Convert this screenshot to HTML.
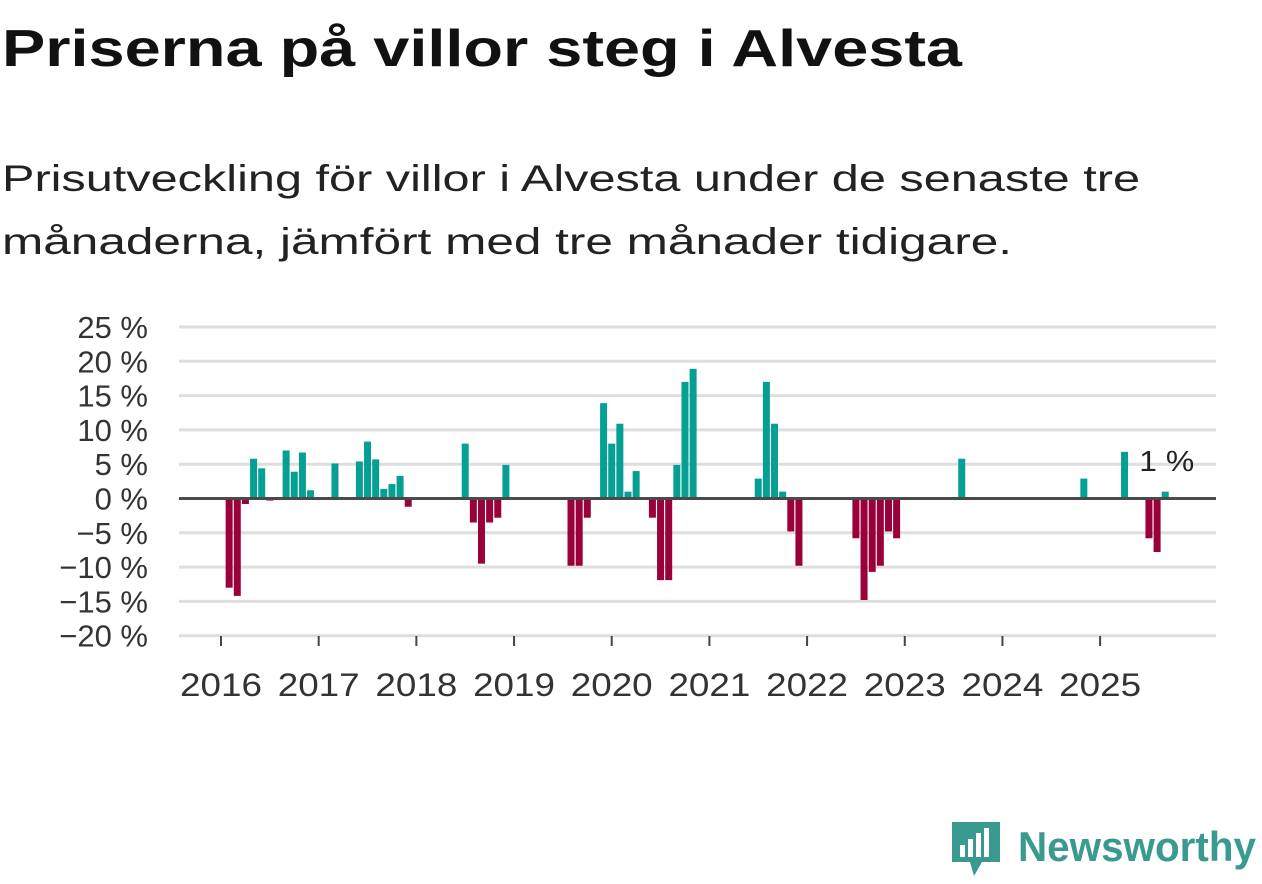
<!DOCTYPE html>
<html><head><meta charset="utf-8"><style>
body{margin:0;background:#fff;width:1262px;height:879px;overflow:hidden;font-family:"Liberation Sans",sans-serif}
</style></head><body>
<svg id="chart" width="1262" height="879" xmlns="http://www.w3.org/2000/svg">
<text x="2" y="66" font-size="52" font-weight="bold" fill="#111" textLength="960" lengthAdjust="spacingAndGlyphs">Priserna på villor steg i Alvesta</text>
<text x="2" y="191" font-size="37" fill="#222" textLength="1138" lengthAdjust="spacingAndGlyphs">Prisutveckling för villor i Alvesta under de senaste tre</text>
<text x="2" y="254" font-size="37" fill="#222" textLength="1010" lengthAdjust="spacingAndGlyphs">månaderna, jämfört med tre månader tidigare.</text>
<g id="grid"></g><g id="bars"></g><g id="axes"></g>
<g>
<path d="M952 822 h48 v40 h-18 l-8 14 l-4 -14 h-18 z" fill="#3a9a8f"/>
<rect x="960" y="845" width="5" height="12" fill="#fff"/><rect x="968" y="839" width="5" height="18" fill="#fff"/><rect x="976" y="833" width="5" height="24" fill="#fff"/><rect x="984" y="828" width="5" height="29" fill="#fff"/>
<text x="1018" y="861" font-size="42" font-weight="bold" fill="#3a9a8f" textLength="238" lengthAdjust="spacingAndGlyphs">Newsworthy</text>
</g>
</svg>
<script>
// monthly values Jan 2016 .. Sep 2025 (0 = no bar)
const years = [2016,2017,2018,2019,2020,2021,2022,2023,2024,2025];
const yTicks = [25,20,15,10,5,0,-5,-10,-15,-20];
const values = [
 0,-13,-14.2,-0.8,5.8,4.4,-0.3,0,7,3.9,6.7,1.2,
 0,0,5.1,0,0,5.4,8.3,5.7,1.4,2.1,3.3,-1.2,
 0,0,0,0,0,0,8,-3.5,-9.5,-3.5,-2.8,4.9,
 0,0,0,0,0,0,0,-9.8,-9.8,-2.8,0,13.9,
 8,10.9,1,4,0,-2.8,-11.9,-11.9,4.9,17,18.9,0,
 0,0,0,0,0,0,2.9,17,10.9,1,-4.8,-9.8,
 0,0,0,0,0,0,-5.8,-14.8,-10.7,-9.8,-4.8,-5.8,
 0,0,0,0,0,0,0,5.8,0,0,0,0,
 0,0,0,0,0,0,0,0,0,0,2.9,0,
 0,0,0,6.8,0,0,-5.8,-7.8,1
];
const NS="http://www.w3.org/2000/svg";
const x0=221, step=8.14, zeroY=498.5, perUnit=34.3/5;
const xS=i=>x0+i*step, yS=v=>zeroY-v*perUnit;
function mk(t,a,p){const e=document.createElementNS(NS,t);for(const k in a)e.setAttribute(k,a[k]);p.appendChild(e);return e;}
function widen(t,f){const w=t.getComputedTextLength();t.setAttribute('textLength',w*f);t.setAttribute('lengthAdjust','spacingAndGlyphs');}
const grid=document.getElementById('grid'),bars=document.getElementById('bars'),axes=document.getElementById('axes');
yTicks.forEach(v=>{
 const l=mk('line',{x1:179,x2:1216,y1:yS(v),y2:yS(v),stroke:'#dedede','stroke-width':3},grid);
 
 
 const t=mk('text',{x:148,y:yS(v)+11,'text-anchor':'end','font-size':31,fill:'#333'},axes);
 t.textContent=(v<0?'\u2212'+(-v):v)+' %';
 
 
});
values.forEach((v,i)=>{
 if(!v)return;
 const r=mk('rect',{x:xS(i)-3.5,y:Math.min(yS(v),zeroY),width:7,height:Math.abs(yS(v)-zeroY),fill:v>0?'#05a093':'#9a0039'},bars);
 
 
});
const z=mk('line',{x1:179,x2:1216,y1:zeroY,y2:zeroY,stroke:'#4a4a4a','stroke-width':3},axes);


years.forEach((y,k)=>{
 const x=xS(k*12);
 const tk=mk('line',{x1:x,x2:x,y1:636,y2:646,stroke:'#444','stroke-width':2},axes);
 
 
 const t=mk('text',{x:x,y:696,'text-anchor':'middle','font-size':32,fill:'#333'},axes);
 t.textContent=y;
 
 
 widen(t,1.15);
});
const last=values.length-1;
const lab=mk('text',{x:xS(last)-26,y:471,'font-size':29,fill:'#222'},axes);
lab.textContent=values[last]+' %';


widen(lab,1.1);
</script>
</body></html>
